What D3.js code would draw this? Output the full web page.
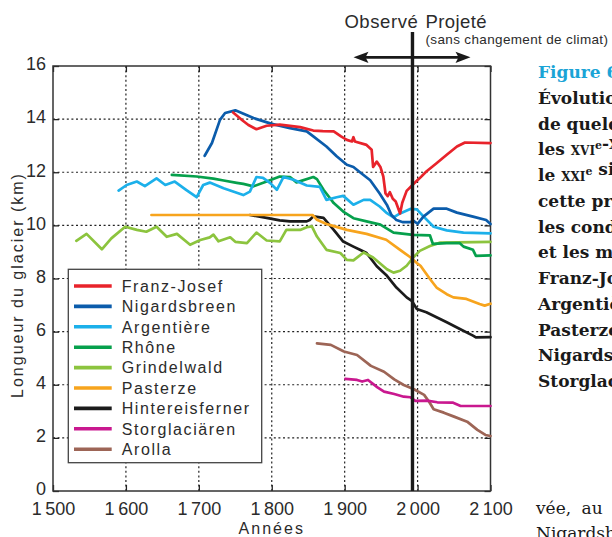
<!DOCTYPE html>
<html>
<head>
<meta charset="utf-8">
<script src="https://cdn.jsdelivr.net/npm/d3@7"></script>
<style>
  html, body { margin: 0; padding: 0; background: #fff; overflow: hidden; }
  svg { display: block; }
</style>
</head>
<body>
<svg id="chart" width="612" height="537"></svg>
<script>
// Glacier length records (km) by year, observed then projected
const glacierNames = ["Franz-Josef", "Nigardsbreen", "Argentière", "Rhône", "Grindelwald",
                      "Pasterze", "Hintereisferner", "Storglaciären", "Arolla"];
const glacierColors = ["#e8232b", "#0b5cab", "#1cb0ea", "#06a04c", "#8cc43e",
                       "#f7a41d", "#1b1b1b", "#c9188f", "#9d6556"];

const franzJosef = [[1747,14.25],[1760,13.95],[1768,13.78],[1779,13.62],[1793,13.75],[1811,13.79],
  [1839,13.7],[1857,13.57],[1870,13.55],[1885,13.54],[1895,13.35],[1903,13.22],[1910,13.16],
  [1912,13.32],[1914,13.16],[1930,13.03],[1937,12.85],[1939,12.2],[1944,12.4],[1949,12.2],
  [1953,11.84],[1956,11.2],[1959,11.1],[1962,11.25],[1966,11.0],[1970,10.9],[1976,10.45],
  [1979,10.85],[1985,11.3],[1994,11.55],[2003,11.78],[2012,12.03],[2026,12.34],[2040,12.66],
  [2054,12.97],[2065,13.12],[2100,13.1]];
const nigardsbreen = [[1708,12.62],[1718,13.1],[1729,13.97],[1736,14.23],[1750,14.33],[1775,14.04],
  [1800,13.82],[1825,13.66],[1848,13.54],[1857,13.35],[1875,12.97],[1889,12.6],[1903,12.28],
  [1912,12.2],[1921,12.0],[1935,11.7],[1948,11.2],[1958,10.77],[1964,10.4],[1971,10.2],
  [1980,10.12],[1990,10.12],[1994,10.18],[2000,10.06],[2008,10.33],[2022,10.63],[2040,10.63],
  [2054,10.48],[2076,10.33],[2094,10.2],[2100,10.05]];
const argentiere = [[1590,11.31],[1601,11.52],[1615,11.65],[1626,11.48],[1642,11.77],[1654,11.52],
  [1667,11.65],[1683,11.33],[1697,11.06],[1706,11.52],[1715,11.61],[1734,11.4],[1752,11.23],
  [1761,11.14],[1770,11.27],[1779,11.82],[1788,11.79],[1798,11.59],[1807,11.34],[1816,11.82],
  [1830,11.72],[1848,11.5],[1866,11.45],[1875,10.96],[1889,11.06],[1898,11.11],[1912,10.78],
  [1926,10.96],[1935,10.96],[1948,10.71],[1958,10.46],[1967,10.3],[1976,10.45],[1990,10.62],
  [1999,10.6],[2008,10.34],[2022,9.95],[2040,9.81],[2063,9.73],[2100,9.7]];
const rhone = [[1663,11.9],[1697,11.84],[1720,11.76],[1734,11.69],[1752,11.6],[1761,11.56],
  [1775,11.47],[1793,11.65],[1811,11.84],[1825,11.82],[1834,11.62],[1857,11.82],[1862,11.74],
  [1871,11.34],[1885,10.84],[1898,10.52],[1912,10.27],[1930,10.15],[1949,10.03],[1967,9.73],
  [1994,9.64],[2017,9.62],[2021,9.3],[2040,9.33],[2058,9.33],[2063,9.2],[2076,9.08],
  [2080,8.85],[2100,8.87]];
const grindelwald = [[1532,9.42],[1546,9.68],[1567,9.1],[1580,9.51],[1599,9.95],[1615,9.83],
  [1628,9.76],[1642,9.95],[1656,9.57],[1670,9.68],[1688,9.27],[1702,9.45],[1715,9.55],
  [1720,9.65],[1727,9.4],[1743,9.55],[1750,9.38],[1766,9.33],[1779,9.73],[1793,9.43],
  [1811,9.4],[1820,9.83],[1839,9.83],[1848,9.93],[1855,9.96],[1862,9.58],[1875,9.08],
  [1894,8.96],[1903,8.7],[1912,8.68],[1926,8.98],[1939,8.79],[1958,8.35],[1967,8.22],
  [1976,8.29],[1985,8.48],[1994,8.79],[2003,9.04],[2017,9.22],[2031,9.35],[2100,9.38]];
const pasterze = [[1635,10.39],[1856,10.39],[1862,10.21],[1875,10.05],[1884,9.98],[1903,9.83],
  [1930,9.68],[1957,9.46],[1976,9.08],[1990,8.8],[1999,8.58],[2004,8.48],[2017,7.98],
  [2026,7.66],[2040,7.41],[2049,7.29],[2067,7.23],[2085,7.04],[2092,6.98],[2100,7.05]];
const hintereisferner = [[1770,10.39],[1793,10.28],[1811,10.19],[1825,10.15],[1848,10.15],
  [1852,10.2],[1857,10.34],[1871,10.28],[1885,9.83],[1898,9.39],[1912,9.2],[1921,9.08],
  [1930,8.96],[1944,8.46],[1958,8.1],[1971,7.66],[1985,7.29],[1992,7.16],[1999,6.85],
  [2012,6.73],[2026,6.54],[2040,6.35],[2058,6.1],[2076,5.85],[2080,5.78],[2100,5.79]];
const storglaciaren = [[1901,4.22],[1917,4.18],[1924,4.12],[1932,4.18],[1945,3.9],[1954,3.74],
  [1968,3.65],[1981,3.55],[1990,3.53],[1997,3.39],[2013,3.4],[2027,3.34],[2048,3.33],
  [2059,3.2],[2100,3.2]];
const arolla = [[1862,5.56],[1881,5.5],[1899,5.25],[1917,5.12],[1936,4.71],[1954,4.49],
  [1968,4.2],[1981,3.99],[1995,3.83],[2009,3.62],[2016,3.35],[2022,3.08],[2036,2.95],
  [2050,2.8],[2068,2.61],[2082,2.3],[2093,2.11],[2100,2.07]];

const glacierSeries = [franzJosef, nigardsbreen, argentiere, rhone, grindelwald,
                       pasterze, hintereisferner, storglaciaren, arolla];

const xTickValues = [1500, 1600, 1700, 1800, 1900, 2000, 2100];
const yTickValues = [0, 2, 4, 6, 8, 10, 12, 14, 16];
const dividerYear = 1993; // boundary between observed and projected

const sideLines = ["Évolution", "de quelques", "les |xvi|e|-|xix|e| siècles", "le |xxi|e| siècle",
  "cette projection", "les conditions", "et les mesures", "Franz-Josef", "Argentière",
  "Pasterze", "Nigardsbreen", "Storglaciären"];

// ---------------------------------------------------------------
const svg = d3.select("#chart");
const plotL = 53, plotR = 490.5, plotT = 66, plotB = 491;
const x = d3.scaleLinear().domain([1500, 2100]).range([plotL, plotR]);
const y = d3.scaleLinear().domain([0, 16]).range([plotB, plotT]);
const ink = "#2b2b2b";
const sans = "'Liberation Sans', Arial, sans-serif";

// dotted grid
const grid = svg.append("g").attr("stroke", "#222").attr("stroke-width", 1.2)
  .attr("stroke-dasharray", "2,2.6");
grid.selectAll(".gx").data(xTickValues.slice(1, -1)).join("line")
  .attr("x1", d => x(d)).attr("x2", d => x(d)).attr("y1", plotT).attr("y2", plotB);
grid.selectAll(".gy").data(yTickValues.slice(1, -1)).join("line")
  .attr("y1", d => y(d)).attr("y2", d => y(d)).attr("x1", plotL).attr("x2", plotR);

// axes with inward ticks
const fmtYear = d => { const s = String(d); return s.slice(0, 1) + "\u2009" + s.slice(1); };
const gx = svg.append("g").attr("transform", `translate(0,${plotB})`)
  .call(d3.axisBottom(x).tickValues(xTickValues).tickSizeInner(-6).tickSizeOuter(0)
    .tickPadding(11).tickFormat(fmtYear));
const gxt = svg.append("g").attr("transform", `translate(0,${plotT})`)
  .call(d3.axisTop(x).tickValues(xTickValues).tickSizeInner(-6).tickSizeOuter(0).tickFormat(""));
const gy = svg.append("g").attr("transform", `translate(${plotL},0)`)
  .call(d3.axisLeft(y).tickValues(yTickValues).tickSizeInner(-6).tickSizeOuter(0)
    .tickPadding(7));
const gyr = svg.append("g").attr("transform", `translate(${plotR},0)`)
  .call(d3.axisRight(y).tickValues(yTickValues).tickSizeInner(-6).tickSizeOuter(0).tickFormat(""));
[gx, gxt, gy, gyr].forEach(g => {
  g.select(".domain").remove();
  g.selectAll(".tick line").attr("stroke", "#222").attr("stroke-width", 1.3);
  g.selectAll("text").attr("fill", ink).attr("font-family", sans).attr("font-size", 18);
});
gy.selectAll("text").attr("dy", "0.21em");

// frame
svg.append("rect").attr("x", plotL).attr("y", plotT).attr("width", plotR - plotL)
  .attr("height", plotB - plotT).attr("fill", "none").attr("stroke", "#333").attr("stroke-width", 1.5);

// glacier curves (last legend entry drawn first)
const line = d3.line().x(d => x(d[0])).y(d => y(d[1]));
const order = d3.range(glacierNames.length).reverse();
svg.append("g").selectAll("path").data(order).join("path")
  .attr("d", i => line(glacierSeries[i]))
  .attr("fill", "none").attr("stroke", i => glacierColors[i])
  .attr("stroke-width", 2.7).attr("stroke-linejoin", "round").attr("stroke-linecap", "round");

// observed / projected divider
svg.append("line").attr("x1", x(dividerYear)).attr("x2", x(dividerYear))
  .attr("y1", 32).attr("y2", plotB).attr("stroke", "#1a1a1a").attr("stroke-width", 3.4);

// double arrow
const ay = 57.3, ax0 = 353.5, ax1 = 470.5, ah = 15, aw = 5.6;
svg.append("line").attr("x1", ax0 + 6).attr("x2", ax1 - 6).attr("y1", ay).attr("y2", ay)
  .attr("stroke", "#1a1a1a").attr("stroke-width", 2.8);
svg.append("path").attr("fill", "#1a1a1a")
  .attr("d", `M${ax0},${ay} L${ax0 + ah},${ay - aw} L${ax0 + ah - 3},${ay} L${ax0 + ah},${ay + aw} Z
              M${ax1},${ay} L${ax1 - ah},${ay - aw} L${ax1 - ah + 3},${ay} L${ax1 - ah},${ay + aw} Z`);

svg.append("text").attr("x", 418.5).attr("y", 27.5).attr("text-anchor", "end")
  .attr("font-family", sans).attr("font-size", 18.5).attr("letter-spacing", 0.6).attr("fill", ink)
  .text("Observé");
svg.append("text").attr("x", 425.5).attr("y", 27.5)
  .attr("font-family", sans).attr("font-size", 18.5).attr("letter-spacing", 0.4).attr("fill", ink)
  .text("Projeté");
svg.append("text").attr("x", 425.5).attr("y", 44)
  .attr("font-family", sans).attr("font-size", 13.5).attr("letter-spacing", 0.35).attr("fill", ink)
  .text("(sans changement de climat)");

// axis titles
svg.append("text").attr("x", x(1800)).attr("y", 534).attr("text-anchor", "middle")
  .attr("font-family", sans).attr("font-size", 16).attr("letter-spacing", 2).attr("fill", ink)
  .text("Années");
svg.append("text").attr("transform", "translate(23,285) rotate(-90)").attr("text-anchor", "middle")
  .attr("font-family", sans).attr("font-size", 16).attr("letter-spacing", 2).attr("fill", ink)
  .text("Longueur du glacier (km)");

// legend
const lg = svg.append("g");
lg.append("rect").attr("x", 68.3).attr("y", 269.3).attr("width", 193.4).attr("height", 193.4)
  .attr("fill", "#fff").attr("stroke", "#444").attr("stroke-width", 1.3);
const rows = lg.selectAll(".row").data(glacierNames).join("g")
  .attr("transform", (d, i) => `translate(0,${286 + i * 20.4})`);
rows.append("line").attr("x1", 74).attr("x2", 111.7).attr("y1", 0).attr("y2", 0)
  .attr("stroke", (d, i) => glacierColors[i]).attr("stroke-width", 3.6);
rows.append("text").attr("x", 121.7).attr("y", 5.8).attr("font-family", sans).attr("font-size", 16)
  .attr("letter-spacing", 1.6).attr("fill", ink).text(d => d);

// running text beside the figure
const serif = "'DejaVu Serif', serif";
const side = svg.append("g").attr("font-family", serif).attr("font-size", 17).attr("font-weight", "bold");
side.append("text").attr("x", 538).attr("y", 78).attr("fill", "#1ba4d6").text("Figure 6");
sideLines.forEach((s, i) => {
  const t = side.append("text").attr("x", 538).attr("y", 78 + 25.75 * (i + 1)).attr("fill", "#1a1a1a");
  s.split("|").forEach(part => {
    if (part === "e") {
      t.append("tspan").attr("font-size", 11).attr("dy", -6).text("e");
      t.append("tspan").attr("dy", 6).text("");
    } else if (/^x[vix]+$/.test(part)) {
      t.append("tspan").attr("font-variant", "small-caps").text(part);
    } else {
      t.append("tspan").text(part);
    }
  });
});
const prose = svg.append("g").attr("font-family", serif).attr("font-size", 17).attr("fill", "#1a1a1a");
prose.append("text").attr("x", 536).attr("y", 514).attr("word-spacing", 5).text("vée, au");
prose.append("text").attr("x", 536).attr("y", 539).text("Nigardsbreen");
</script>
</body>
</html>
